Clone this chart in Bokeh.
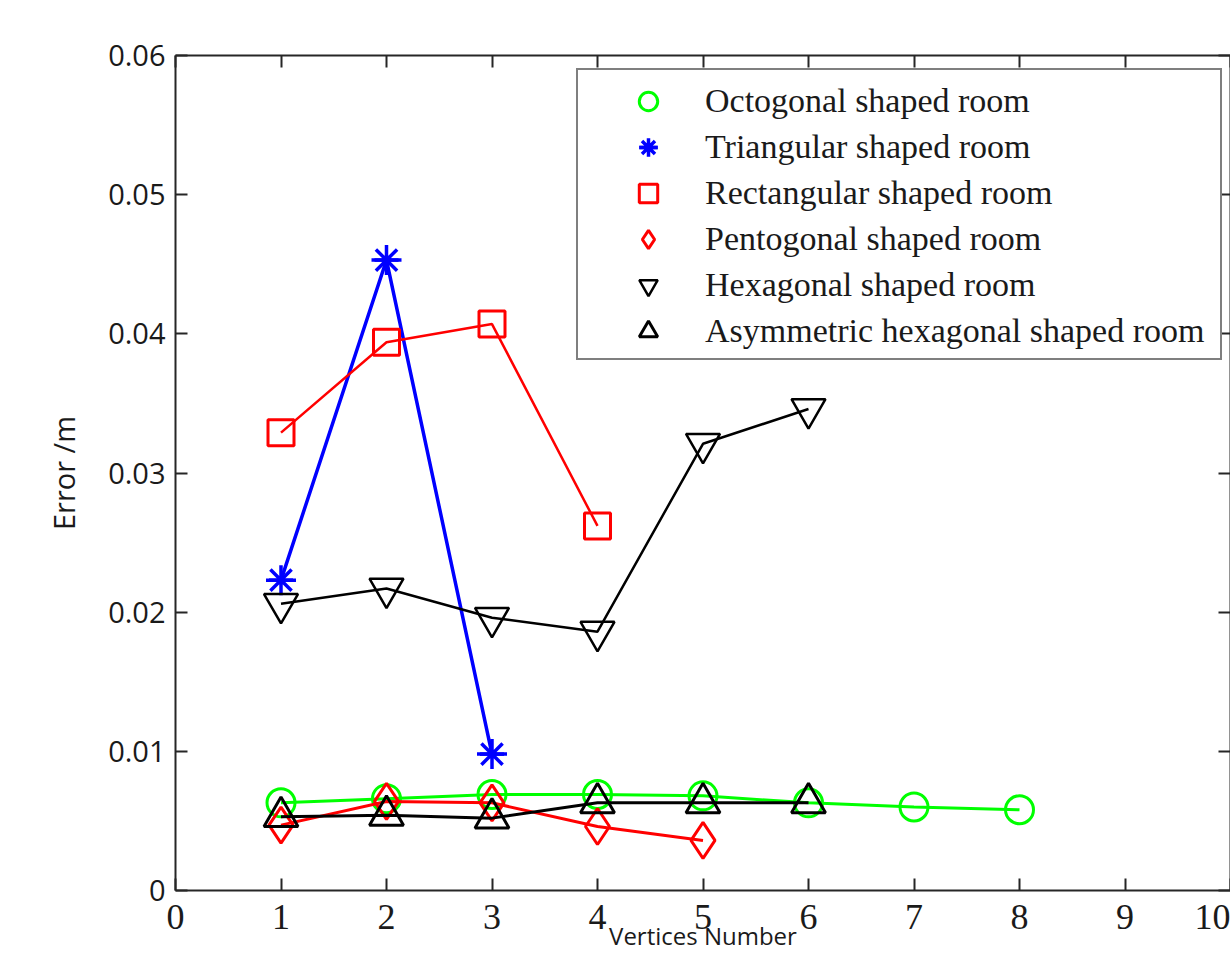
from bokeh.plotting import figure
from bokeh.models import (Range1d, FixedTicker, LinearAxis, Legend, LegendItem,
                          CustomJSTickFormatter)
from bokeh.embed import file_html
from bokeh.resources import INLINE

# ---------------- data ----------------
vertices_oct = [1, 2, 3, 4, 5, 6, 7, 8]
error_oct = [0.0063, 0.0066, 0.0069, 0.0069, 0.0068, 0.0063, 0.0060, 0.0058]

vertices_tri = [1, 2, 3]
error_tri = [0.0223, 0.0453, 0.0098]

vertices_rect = [1, 2, 3, 4]
error_rect = [0.0329, 0.0394, 0.0407, 0.0262]

vertices_pent = [1, 2, 3, 4, 5]
error_pent = [0.0047, 0.0064, 0.0063, 0.0046, 0.0036]

vertices_hex = [1, 2, 3, 4, 5, 6]
error_hex = [0.0206, 0.0217, 0.0196, 0.0186, 0.0321, 0.0346]

vertices_asym = [1, 2, 3, 4, 5, 6]
error_asym = [0.0053, 0.0054, 0.0052, 0.0063, 0.0063, 0.0063]

series_names = ["Octogonal shaped room", "Triangular shaped room",
                "Rectangular shaped room", "Pentogonal shaped room",
                "Hexagonal shaped room", "Asymmetric hexagonal shaped room"]

x_ticks = [0, 1, 2, 3, 4, 5, 6, 7, 8, 9, 10]
x_tick_labels = ["0", "1", "2", "3", "4", "5", "6", "7", "8", "9", "10"]
y_ticks = [0, 0.01, 0.02, 0.03, 0.04, 0.05, 0.06]
y_tick_labels = ["0", "0.01", "0.02", "0.03", "0.04", "0.05", "0.06"]

x_title = "Vertices Number"
y_title = "Error /m"

# ---------------- styles ----------------
GREEN = "#00ff00"
BLUE = "#0000ff"
RED = "#ff0000"
BLACK = "#000000"
AXIS_C = "#262626"
TEXT_C = "#1a1a1a"
SANS = "Open Sans"
SERIF = "Liberation Serif"

p = figure(width=1230, height=955, output_backend="svg", toolbar_location=None,
           x_range=Range1d(0, 10), y_range=Range1d(0, 0.06),
           min_border_left=175, min_border_right=0, min_border_top=55,
           min_border_bottom=65, background_fill_color="white",
           border_fill_color="white")
p.xgrid.visible = False
p.ygrid.visible = False
p.outline_line_color = None

xa = p.xaxis[0]
xa.ticker = FixedTicker(ticks=x_ticks)
xa.major_label_overrides = {t: l for t, l in zip(x_ticks, x_tick_labels)}
xa.major_label_text_font = SERIF
xa.major_label_text_font_size = "36px"
xa.major_label_text_color = TEXT_C
xa.major_label_standoff = 14
xa.major_tick_in = 12
xa.major_tick_out = 0
xa.minor_tick_line_color = None
xa.axis_line_color = AXIS_C
xa.axis_line_width = 2
xa.major_tick_line_color = AXIS_C
xa.major_tick_line_width = 2
xa.axis_label = x_title
xa.axis_label_text_font = SANS
xa.axis_label_text_font_size = "24px"
xa.axis_label_text_font_style = "normal"
xa.axis_label_text_color = TEXT_C
xa.axis_label_standoff = -13

ya = p.yaxis[0]
ya.ticker = FixedTicker(ticks=y_ticks)
ya.major_label_overrides = {t: l for t, l in zip(y_ticks, y_tick_labels)}
ya.major_label_text_font = SANS
ya.major_label_text_font_size = "29px"
ya.major_label_text_color = TEXT_C
ya.major_label_standoff = 10
ya.major_tick_in = 12
ya.major_tick_out = 0
ya.minor_tick_line_color = None
ya.axis_line_color = AXIS_C
ya.axis_line_width = 2
ya.major_tick_line_color = AXIS_C
ya.major_tick_line_width = 2
ya.axis_label = y_title
ya.axis_label_text_font = SANS
ya.axis_label_text_font_size = "29px"
ya.axis_label_text_font_style = "normal"
ya.axis_label_text_color = TEXT_C
ya.axis_label_standoff = 22

for loc, ticks in (("above", x_ticks), ("right", y_ticks)):
    ax = LinearAxis(ticker=FixedTicker(ticks=ticks),
                    formatter=CustomJSTickFormatter(code="return ''"),
                    major_label_text_font_size="0px", major_label_standoff=0,
                    major_tick_in=12, major_tick_out=0,
                    minor_tick_line_color=None,
                    axis_line_color=AXIS_C, axis_line_width=2,
                    major_tick_line_color=AXIS_C, major_tick_line_width=2)
    p.add_layout(ax, loc)

# ---------------- series ----------------
p.line(vertices_oct, error_oct, line_color=GREEN, line_width=3)
r_oct = p.scatter(vertices_oct, error_oct, marker="circle", size=28,
                  line_color=GREEN, line_width=3, fill_color=None)

p.line(vertices_tri, error_tri, line_color=BLUE, line_width=3.5)
r_tri1 = p.scatter(vertices_tri, error_tri, marker="asterisk", size=30,
                   line_color=BLUE, line_width=3.5)
r_tri2 = p.scatter(vertices_tri, error_tri, marker="dash", size=24,
                   line_color=BLUE, line_width=3.5)

p.line(vertices_rect, error_rect, line_color=RED, line_width=2.5)
r_rect = p.scatter(vertices_rect, error_rect, marker="square", size=26,
                   line_color=RED, line_width=3, fill_color=None)

p.line(vertices_pent, error_pent, line_color=RED, line_width=3)
r_pent = p.scatter(vertices_pent, error_pent, marker="diamond", size=36,
                   line_color=RED, line_width=3, fill_color=None)

p.line(vertices_hex, error_hex, line_color=BLACK, line_width=2.5)
r_hex = p.scatter(vertices_hex, error_hex, marker="inverted_triangle", size=34,
                  line_color=BLACK, line_width=2.5, fill_color=None)

p.line(vertices_asym, error_asym, line_color=BLACK, line_width=3)
r_asym = p.scatter(vertices_asym, error_asym, marker="triangle", size=34,
                   line_color=BLACK, line_width=3, fill_color=None)

legend = Legend(
    items=[LegendItem(label=series_names[0], renderers=[r_oct]),
           LegendItem(label=series_names[1], renderers=[r_tri1, r_tri2]),
           LegendItem(label=series_names[2], renderers=[r_rect]),
           LegendItem(label=series_names[3], renderers=[r_pent]),
           LegendItem(label=series_names[4], renderers=[r_hex]),
           LegendItem(label=series_names[5], renderers=[r_asym])],
    location=(401, 530), orientation="vertical",
    padding=dict(left=13, right=5, top=8, bottom=4), spacing=0,
    glyph_height=46, glyph_width=114,
    label_height=46, label_width=510, label_standoff=0, margin=0,
    label_text_font=SERIF, label_text_font_size="34px",
    label_text_color=TEXT_C, label_text_baseline="middle",
    border_line_color=BLACK, border_line_width=2,
    background_fill_color="white", background_fill_alpha=1.0)
p.add_layout(legend)

open("out.html", "w").write(file_html(p, INLINE))
